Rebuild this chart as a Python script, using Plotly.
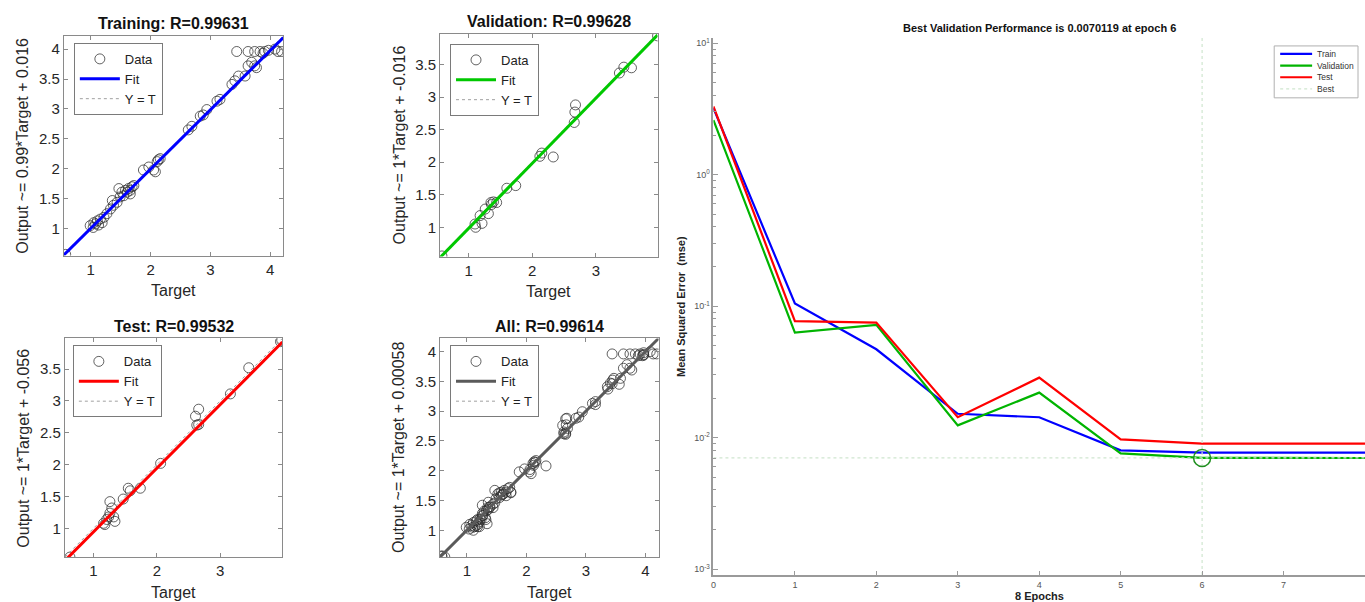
import plotly.graph_objects as go

W, H = 1365, 602
FONT = "Liberation Sans, Arial, Helvetica, sans-serif"

# ---------------- Regression data ----------------
train_target = [0.58, 0.99, 1.05, 1.08, 1.11, 1.13, 1.16, 1.22, 1.04, 1.19,
                1.27, 1.33, 1.38, 1.44, 1.36, 1.47, 1.52, 1.58, 1.61, 1.63,
                1.66, 1.69, 1.72, 1.55, 1.49, 1.66, 1.88, 1.97, 2.05, 2.08,
                2.11, 2.13, 2.16, 2.63, 2.69, 2.83, 2.88, 2.94, 3.11, 3.16,
                3.36, 3.41, 3.47, 3.58, 3.63, 3.69, 3.74, 3.77, 3.44, 3.63,
                3.74, 3.83, 3.88, 3.91, 3.97, 4.13, 4.19, 4.08]
train_output = [0.57, 1.05, 1.10, 1.08, 1.13, 1.06, 1.16, 1.19, 1.02, 1.10,
                1.25, 1.33, 1.39, 1.44, 1.47, 1.67, 1.61, 1.64, 1.61, 1.67,
                1.64, 1.70, 1.72, 1.55, 1.53, 1.58, 1.98, 2.03, 1.98, 1.95,
                2.12, 2.15, 2.17, 2.65, 2.71, 2.88, 2.90, 2.99, 3.13, 3.16,
                3.41, 3.47, 3.55, 3.55, 3.72, 3.78, 3.72, 3.69, 3.96, 3.96,
                3.96, 3.96, 3.93, 3.96, 3.98, 3.96, 3.96, 4.00]

val_target = [0.58, 1.10, 1.11, 1.21, 1.18, 1.26, 1.31, 1.35, 1.39, 1.44,
              1.36, 1.60, 1.74, 2.12, 2.15, 2.33, 2.66, 2.67, 2.68, 3.37,
              3.44, 3.56, 3.97]
val_output = [0.56, 1.05, 1.00, 1.06, 1.18, 1.28, 1.21, 1.38, 1.39, 1.38,
              1.35, 1.60, 1.64, 2.09, 2.14, 2.08, 2.61, 2.77, 2.88, 3.37,
              3.46, 3.45, 3.94]

test_target = [0.63, 1.16, 1.21, 1.18, 1.26, 1.26, 1.29, 1.32, 1.34, 1.24,
               1.47, 1.55, 1.58, 1.74, 2.06, 2.61, 2.66, 2.63, 2.66, 3.16,
               3.45, 3.97, 3.95]
test_output = [0.55, 1.08, 1.14, 1.06, 1.24, 1.42, 1.32, 1.18, 1.11, 1.18,
               1.46, 1.63, 1.59, 1.63, 2.02, 2.76, 2.87, 2.62, 2.63, 3.11,
               3.52, 3.95, 3.93]

all_target = train_target + val_target + test_target
all_output = train_output + val_output + test_output

fit_params = {  # slope, intercept
    "Training": (0.99, 0.016),
    "Validation": (1.0, -0.016),
    "Test": (1.0, -0.056),
    "All": (1.0, 0.00058),
}
r_values = {"Training": "0.99631", "Validation": "0.99628",
            "Test": "0.99532", "All": "0.99614"}
ylabels = {"Training": "Output ~= 0.99*Target + 0.016",
           "Validation": "Output ~= 1*Target + -0.016",
           "Test": "Output ~= 1*Target + -0.056",
           "All": "Output ~= 1*Target + 0.00058"}
fit_colors = {"Training": "#0000ff", "Validation": "#00c800",
              "Test": "#ff0000", "All": "#5a5a5a"}

ticks_14 = [1, 2, 3, 4]
ticks_13 = [1, 2, 3]
yticks_40 = [1, 1.5, 2, 2.5, 3, 3.5, 4]
yticks_35 = [1, 1.5, 2, 2.5, 3, 3.5]

# ---------------- Performance data ----------------
epochs = [0, 1, 2, 3, 4, 5, 6, 7, 8]
perf_train = [3.2, 0.105, 0.047, 0.0152, 0.0143, 0.0080, 0.0077, 0.0077, 0.0077]
perf_val = [2.6, 0.063, 0.072, 0.0124, 0.022, 0.0076, 0.0070119, 0.0070, 0.0070]
perf_test = [3.3, 0.077, 0.075, 0.0143, 0.0286, 0.0097, 0.0090, 0.0090, 0.0090]
best_epoch = 6
best_perf = 0.0070119
perf_names = ["Train", "Validation", "Test", "Best"]
perf_colors = ["#0000ff", "#00b400", "#ff0000", "#cfe6cf"]
perf_yticks = [1e-3, 1e-2, 1e-1, 1e0, 1e1]
perf_yticktext = ["10<sup>-3</sup>", "10<sup>-2</sup>", "10<sup>-1</sup>",
                  "10<sup>0</sup>", "10<sup>1</sup>"]


def px(x, y):
    return x / W, 1 - y / H


fig = go.Figure()
annotations = []
shapes = []

panels = [
    ("Training", train_target, train_output, "", (61, 281, 35, 255), (0.55, 4.22),
     ticks_14, yticks_40, (71, 42)),
    ("Validation", val_target, val_output, "2", (438, 656, 33, 256), (0.55, 3.97),
     ticks_13, yticks_35, (448, 43)),
    ("Test", test_target, test_output, "3", (62, 280, 338, 557), (0.55, 3.98),
     ticks_13, yticks_35, (70, 345)),
    ("All", all_target, all_output, "4", (438, 657, 338, 557), (0.55, 4.22),
     ticks_14, yticks_40, (448, 345)),
]

axis_line = "#8a8a8a"
for i, (name, tgt, out, sfx, box, rng, xt, yt, legpos) in enumerate(panels):
    xa = "x" + sfx
    ya = "y" + sfx
    leg = "legend" if i == 0 else "legend%d" % (i + 1)
    slope, icpt = fit_params[name]
    fig.add_trace(go.Scatter(
        x=tgt, y=out, mode="markers", name="Data", xaxis=xa, yaxis=ya,
        legend=leg, legendrank=1,
        marker=dict(symbol="circle-open", size=10, color="rgba(45,45,45,0.75)",
                    line=dict(width=1))))
    fig.add_trace(go.Scatter(
        x=list(rng), y=list(rng), mode="lines", name="Y = T", xaxis=xa, yaxis=ya,
        legend=leg, legendrank=3,
        line=dict(color="#a0a0a0", width=1, dash="dot")))
    fig.add_trace(go.Scatter(
        x=list(rng), y=[slope * v + icpt for v in rng], mode="lines", name="Fit",
        xaxis=xa, yaxis=ya, legend=leg, legendrank=2,
        line=dict(color=fit_colors[name], width=3)))

    x0, x1, y0, y1 = box
    ax_common = dict(showline=True, linecolor=axis_line, linewidth=1, mirror="ticks",
                     ticks="inside", ticklen=4, tickcolor=axis_line, showgrid=False,
                     zeroline=False, range=list(rng),
                     tickfont=dict(size=15, color="#262626", family=FONT))
    fig.layout["xaxis" + sfx] = dict(ax_common, domain=[x0 / W, x1 / W],
                                     anchor=ya, tickvals=xt)
    fig.layout["yaxis" + sfx] = dict(ax_common, domain=[1 - y1 / H, 1 - y0 / H],
                                     anchor=xa, tickvals=yt)
    lx, ly = px(*legpos)
    fig.layout[leg] = dict(x=lx, y=ly, xanchor="left", yanchor="top",
                           bgcolor="white", bordercolor="#7a7a7a", borderwidth=1,
                           font=dict(size=13, color="#222", family=FONT),
                           tracegroupgap=0, itemwidth=40)
    cx = (x0 + x1) / 2
    tx, ty = px(cx, y0 - 12)
    annotations.append(dict(x=tx, y=ty, xref="paper", yref="paper",
                            text="%s: R=%s" % (name, r_values[name]),
                            showarrow=False, xanchor="center", yanchor="middle",
                            font=dict(size=16, color="#111", family=FONT, weight="bold")))
    tx, ty = px(cx, y1 + 35)
    annotations.append(dict(x=tx, y=ty, xref="paper", yref="paper", text="Target",
                            showarrow=False, xanchor="center", yanchor="middle",
                            font=dict(size=16, color="#262626", family=FONT)))
    tx, ty = px(x0 - 41, (y0 + y1) / 2)
    annotations.append(dict(x=tx, y=ty, xref="paper", yref="paper",
                            text=ylabels[name], textangle=-90,
                            showarrow=False, xanchor="center", yanchor="middle",
                            font=dict(size=16, color="#262626", family=FONT)))

# ---------------- Performance panel ----------------
perf_box = (712, 1366, 37, 575)
yr = [-3.045, 1.04]
for vals, nm, col in zip([perf_train, perf_val, perf_test], perf_names[:3],
                         perf_colors[:3]):
    fig.add_trace(go.Scatter(x=epochs, y=vals, mode="lines", name=nm,
                             xaxis="x5", yaxis="y5", showlegend=False,
                             line=dict(color=col, width=2.2)))
fig.add_trace(go.Scatter(
    x=[best_epoch, best_epoch, None, epochs[0], epochs[-1]],
    y=[10 ** yr[0], 10 ** yr[1], None, best_perf, best_perf],
    mode="lines", name="Best", xaxis="x5", yaxis="y5", showlegend=False,
    line=dict(color=perf_colors[3], width=1.2, dash="dot")))
fig.add_trace(go.Scatter(
    x=[best_epoch], y=[best_perf], mode="markers", showlegend=False,
    xaxis="x5", yaxis="y5",
    marker=dict(symbol="circle-open", size=17, color="#1f8f1f", line=dict(width=1.5))))

x0, x1, y0, y1 = perf_box
minor_vals = [m * 10 ** e for e in range(-3, 1) for m in range(2, 10)]
fig.layout["xaxis5"] = dict(domain=[x0 / W, 1.0], anchor="y5", range=[0, 8],
                            tickvals=epochs, showline=True, linecolor="#9a9a9a",
                            linewidth=1.5, ticks="inside", ticklen=4,
                            tickcolor="#9a9a9a", showgrid=False, zeroline=False,
                            tickfont=dict(size=9, color="#555", family=FONT))
fig.layout["yaxis5"] = dict(domain=[1 - y1 / H, 1 - y0 / H], anchor="x5",
                            type="log", range=yr, tickvals=perf_yticks,
                            ticktext=perf_yticktext, showline=True,
                            linecolor="#9a9a9a", linewidth=1.5, ticks="inside",
                            ticklen=5, tickcolor="#9a9a9a", showgrid=False,
                            zeroline=False,
                            minor=dict(tickvals=minor_vals, ticks="inside",
                                       ticklen=3, tickcolor="#9a9a9a"),
                            tickfont=dict(size=9, color="#555", family=FONT))

# compact legend for the performance panel (box, line samples, labels)
lg_x0, lg_x1, lg_y0, lg_y1 = 1274, 1358, 45, 97
bx0, by0 = px(lg_x0, lg_y0)
bx1, by1 = px(lg_x1, lg_y1)
shapes.append(dict(type="rect", xref="paper", yref="paper", x0=bx0, x1=bx1,
                   y0=by1, y1=by0, line=dict(color="#b0b0b0", width=1),
                   fillcolor="white", layer="above"))
for k, (nm, col) in enumerate(zip(perf_names, perf_colors)):
    yy = lg_y0 + 8 + k * 11.7
    sx0, sy = px(lg_x0 + 6, yy)
    sx1, _ = px(lg_x0 + 38, yy)
    shapes.append(dict(type="line", xref="paper", yref="paper", x0=sx0, x1=sx1,
                       y0=sy, y1=sy, layer="above",
                       line=dict(color=col, width=1.2 if nm == "Best" else 2.2,
                                 dash="dot" if nm == "Best" else "solid")))
    tx, ty = px(lg_x0 + 41, yy)
    annotations.append(dict(x=tx, y=ty, xref="paper", yref="paper", text=nm,
                            showarrow=False, xanchor="left", yanchor="middle",
                            font=dict(size=8.5, color="#333", family=FONT)))

cx = (x0 + x1) / 2
tx, ty = px(cx, 27)
annotations.append(dict(x=tx, y=ty, xref="paper", yref="paper",
                        text="Best Validation Performance is %s at epoch %d"
                        % (best_perf, best_epoch),
                        showarrow=False, xanchor="center", yanchor="middle",
                        font=dict(size=11, color="#111", family=FONT, weight="bold")))
tx, ty = px(cx, 596)
annotations.append(dict(x=tx, y=ty, xref="paper", yref="paper",
                        text="%d Epochs" % epochs[-1],
                        showarrow=False, xanchor="center", yanchor="middle",
                        font=dict(size=11, color="#222", family=FONT, weight="bold")))
tx, ty = px(680, 306)
annotations.append(dict(x=tx, y=ty, xref="paper", yref="paper",
                        text="Mean Squared Error  (mse)", textangle=-90,
                        showarrow=False, xanchor="center", yanchor="middle",
                        font=dict(size=11, color="#222", family=FONT, weight="bold")))

fig.update_layout(width=W, height=H, margin=dict(l=0, r=0, t=0, b=0),
                  paper_bgcolor="white", plot_bgcolor="white",
                  annotations=annotations, shapes=shapes, font=dict(family=FONT))
fig.write_html("out.html")
